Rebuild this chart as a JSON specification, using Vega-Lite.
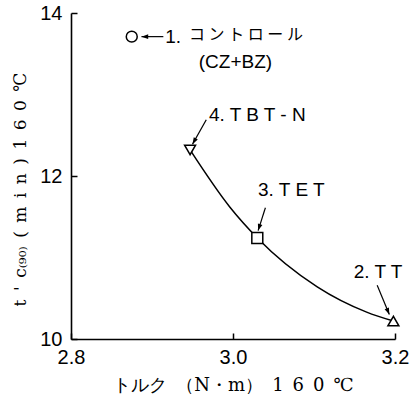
{
  "$schema": "https://vega.github.io/schema/vega-lite/v6.json",
  "width": 324,
  "height": 326,
  "autosize": "none",
  "padding": {"left": 71, "top": 13, "right": 16, "bottom": 66},
  "background": "white",
  "config": {
    "view": {"stroke": null},
    "axis": {"grid": false, "domainColor": "black", "domainWidth": 1.6, "tickColor": "black", "tickWidth": 1.5, "labelColor": "black", "titleColor": "black", "labelFlush": false}
  },
  "datasets": {
    "points": [
      {"name": "1", "torque": 2.875, "t90": 13.71},
      {"name": "2", "torque": 3.198, "t90": 10.22},
      {"name": "3", "torque": 3.030, "t90": 11.24},
      {"name": "4", "torque": 2.947, "t90": 12.32}
    ],
    "curve": [
      {"torque": 2.947, "t90": 12.32},
      {"torque": 2.996, "t90": 11.62},
      {"torque": 3.030, "t90": 11.24},
      {"torque": 3.104, "t90": 10.64},
      {"torque": 3.165, "t90": 10.33},
      {"torque": 3.198, "t90": 10.22}
    ],
    "arrows": [
      {"x": 2.914, "y": 13.71, "x2": 2.887, "y2": 13.71},
      {"x": 2.967, "y": 12.69, "x2": 2.950, "y2": 12.39},
      {"x": 3.040, "y": 11.61, "x2": 3.031, "y2": 11.33},
      {"x": 3.178, "y": 10.66, "x2": 3.193, "y2": 10.30}
    ],
    "labels": [
      {"label": "1.", "x": 2.926, "y": 13.71},
      {"label": "(CZ+BZ)", "x": 3.003, "y": 13.40},
      {"label": "4. T B T - N", "x": 3.030, "y": 12.75},
      {"label": "3. T E T", "x": 3.072, "y": 11.83},
      {"label": "2. T T", "x": 3.179, "y": 10.82}
    ],
    "jp": [
      {"label": "コ ン ト ロ ー ル", "x": 3.016, "y": 13.73}
    ]
  },
  "layer": [
    {
      "data": {"name": "curve"},
      "mark": {"type": "line", "interpolate": "monotone", "color": "black", "strokeWidth": 1.5},
      "encoding": {
        "x": {"field": "torque", "type": "quantitative", "scale": {"domain": [2.8, 3.2], "nice": false, "zero": false},
          "axis": {"values": [2.8, 3.0, 3.2], "format": ".1f", "tickSize": -6, "labelPadding": 14, "labelFont": "Liberation Sans", "labelFontSize": 20,
            "title": "トルク\u2002（N・m）\u20021\u20026\u20020\u2002℃", "titleFont": "DejaVu Serif", "titleFontSize": 18, "titleFontWeight": "normal", "titlePadding": 9}},
        "y": {"field": "t90", "type": "quantitative", "scale": {"domain": [10, 14], "nice": false, "zero": false},
          "axis": {"values": [10, 12, 14], "format": "d", "tickSize": -6, "labelPadding": 15, "labelFont": "Liberation Sans", "labelFontSize": 20,
            "title": "t\u2002'\u2002c₍₉₀₎\u2002(\u2002m\u2002i\u2002n\u2002)\u20021\u20026\u20020\u2002℃", "titleFont": "DejaVu Serif", "titleFontSize": 17, "titleFontWeight": "normal", "titlePadding": 10, "titleY": 176}}
      }
    },
    {
      "data": {"name": "points"},
      "mark": {"type": "point", "filled": true, "fill": "white", "stroke": "black", "strokeWidth": 1.5, "size": 120, "opacity": 1},
      "encoding": {
        "x": {"field": "torque", "type": "quantitative"},
        "y": {"field": "t90", "type": "quantitative"},
        "shape": {"field": "name", "type": "nominal", "scale": {"domain": ["1", "2", "3", "4"], "range": ["circle", "triangle-up", "square", "triangle-down"]}, "legend": null}
      }
    },
    {
      "data": {"name": "arrows"},
      "mark": {"type": "rule", "color": "black", "strokeWidth": 1.2},
      "encoding": {
        "x": {"field": "x", "type": "quantitative"},
        "y": {"field": "y", "type": "quantitative"},
        "x2": {"field": "x2"},
        "y2": {"field": "y2"}
      }
    },
    {
      "data": {"name": "arrows"},
      "transform": [{"calculate": "atan2(-(datum.y2-datum.y)*81.5, (datum.x2-datum.x)*810)*180/PI", "as": "ang"}],
      "mark": {"type": "point", "shape": "M0,0L-1,-0.35L-1,0.35Z", "filled": true, "color": "black", "size": 180, "opacity": 1},
      "encoding": {
        "x": {"field": "x2", "type": "quantitative"},
        "y": {"field": "y2", "type": "quantitative"},
        "angle": {"field": "ang", "type": "quantitative", "scale": null}
      }
    },
    {
      "data": {"name": "labels"},
      "mark": {"type": "text", "font": "Liberation Sans", "fontSize": 19, "baseline": "middle", "align": "center", "color": "black"},
      "encoding": {
        "x": {"field": "x", "type": "quantitative"},
        "y": {"field": "y", "type": "quantitative"},
        "text": {"field": "label"}
      }
    },
    {
      "data": {"name": "jp"},
      "mark": {"type": "text", "font": "Noto Sans CJK JP", "fontSize": 16, "baseline": "middle", "align": "center", "color": "black"},
      "encoding": {
        "x": {"field": "x", "type": "quantitative"},
        "y": {"field": "y", "type": "quantitative"},
        "text": {"field": "label"}
      }
    }
  ]
}
